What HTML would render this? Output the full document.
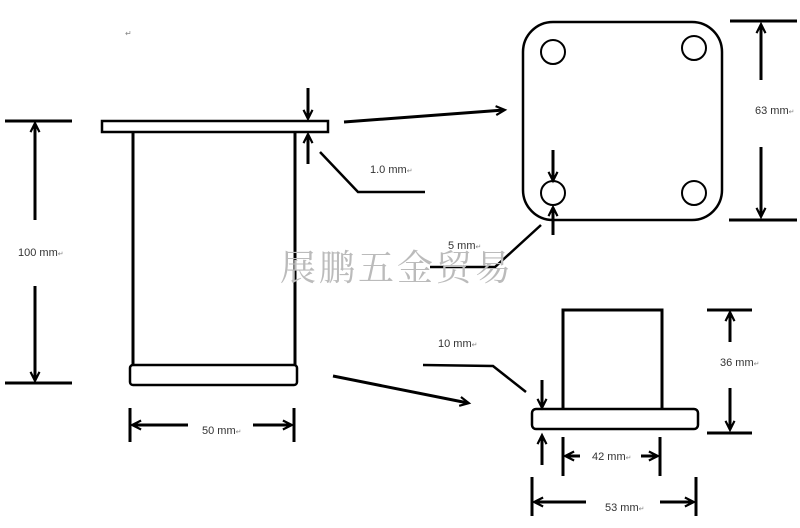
<!DOCTYPE html>
<html><head><meta charset="utf-8"><style>
html,body{margin:0;padding:0;background:#fff;width:800px;height:528px;overflow:hidden}
svg{display:block}
text{font-family:"Liberation Sans","Noto Sans CJK SC",sans-serif;font-size:11px;fill:#333}
</style></head><body>
<svg width="800" height="528" viewBox="0 0 800 528" xmlns="http://www.w3.org/2000/svg">
<defs>
<marker id="a" viewBox="0 0 10 10" refX="9" refY="5" markerWidth="9" markerHeight="12" orient="auto-start-reverse" markerUnits="userSpaceOnUse" style="overflow:visible">
<path d="M0,0 L10,5 L0,10" fill="none" stroke="#000" stroke-width="2.4"/>
</marker>
</defs>
<g stroke="#000" stroke-width="3" fill="none">
<rect x="102" y="121" width="226" height="11" stroke-width="2.5"/>
<line x1="133" y1="132" x2="133" y2="366"/>
<line x1="295" y1="132" x2="295" y2="366"/>
<rect x="130" y="365" width="167" height="20" rx="3" stroke-width="2.5"/>
<line x1="5" y1="121" x2="72" y2="121"/>
<line x1="5" y1="383" x2="72" y2="383"/>
<line x1="35" y1="220" x2="35" y2="124" marker-end="url(#a)"/>
<line x1="35" y1="286" x2="35" y2="380" marker-end="url(#a)"/>
<line x1="308" y1="88" x2="308" y2="118" marker-end="url(#a)"/>
<line x1="308" y1="164" x2="308" y2="135" marker-end="url(#a)"/>
<polyline points="320,152 358,192 425,192" stroke-width="2.5"/>
<line x1="344" y1="122" x2="504" y2="110" marker-end="url(#a)"/>
<line x1="333" y1="376" x2="468" y2="403" marker-end="url(#a)"/>
<line x1="130" y1="408" x2="130" y2="442"/>
<line x1="294" y1="408" x2="294" y2="442"/>
<line x1="188" y1="425" x2="133" y2="425" marker-end="url(#a)"/>
<line x1="253" y1="425" x2="291" y2="425" marker-end="url(#a)"/>
<rect x="523" y="22" width="199" height="198" rx="30" stroke-width="2.5"/>
<circle cx="553" cy="52" r="12" stroke-width="2"/>
<circle cx="694" cy="48" r="12" stroke-width="2"/>
<circle cx="553" cy="193" r="12" stroke-width="2"/>
<circle cx="694" cy="193" r="12" stroke-width="2"/>
<line x1="730" y1="21" x2="797" y2="21"/>
<line x1="729" y1="220" x2="797" y2="220"/>
<line x1="761" y1="80" x2="761" y2="25" marker-end="url(#a)"/>
<line x1="761" y1="147" x2="761" y2="216" marker-end="url(#a)"/>
<line x1="553" y1="150" x2="553" y2="180" marker-end="url(#a)"/>
<line x1="553" y1="235" x2="553" y2="208" marker-end="url(#a)"/>
<polyline points="430,267 495,267 541,225" stroke-width="2.5"/>
<polyline points="563,409 563,310 662,310 662,409"/>
<rect x="532" y="409" width="166" height="20" rx="4" stroke-width="2.5"/>
<line x1="707" y1="310" x2="752" y2="310"/>
<line x1="707" y1="433" x2="752" y2="433"/>
<line x1="730" y1="342" x2="730" y2="313" marker-end="url(#a)"/>
<line x1="730" y1="388" x2="730" y2="429" marker-end="url(#a)"/>
<polyline points="423,365 493,366 526,392" stroke-width="2.5"/>
<line x1="542" y1="380" x2="542" y2="407" marker-end="url(#a)"/>
<line x1="542" y1="465" x2="542" y2="436" marker-end="url(#a)"/>
<line x1="563" y1="437" x2="563" y2="476"/>
<line x1="660" y1="437" x2="660" y2="476"/>
<line x1="580" y1="456" x2="566" y2="456" marker-end="url(#a)"/>
<line x1="641" y1="456" x2="657" y2="456" marker-end="url(#a)"/>
<line x1="532" y1="477" x2="532" y2="516"/>
<line x1="696" y1="477" x2="696" y2="516"/>
<line x1="586" y1="502" x2="535" y2="502" marker-end="url(#a)"/>
<line x1="660" y1="502" x2="693" y2="502" marker-end="url(#a)"/>
</g>
<text x="280" y="280" style="font-family:'Liberation Serif','Noto Serif CJK SC',serif;font-size:36px;letter-spacing:3px;fill:#bbb">展鹏五金贸易</text>
<text x="125" y="36" style="font-size:8px;fill:#888">↵</text>
<text x="18" y="256">100 mm<tspan style="font-size:7px;fill:#888">↵</tspan></text>
<text x="370" y="173">1.0 mm<tspan style="font-size:7px;fill:#888">↵</tspan></text>
<text x="202" y="434">50 mm<tspan style="font-size:7px;fill:#888">↵</tspan></text>
<text x="755" y="114">63 mm<tspan style="font-size:7px;fill:#888">↵</tspan></text>
<text x="448" y="249">5 mm<tspan style="font-size:7px;fill:#888">↵</tspan></text>
<text x="438" y="347">10 mm<tspan style="font-size:7px;fill:#888">↵</tspan></text>
<text x="720" y="366">36 mm<tspan style="font-size:7px;fill:#888">↵</tspan></text>
<text x="592" y="460">42 mm<tspan style="font-size:7px;fill:#888">↵</tspan></text>
<text x="605" y="511">53 mm<tspan style="font-size:7px;fill:#888">↵</tspan></text>
</svg>
</body></html>
